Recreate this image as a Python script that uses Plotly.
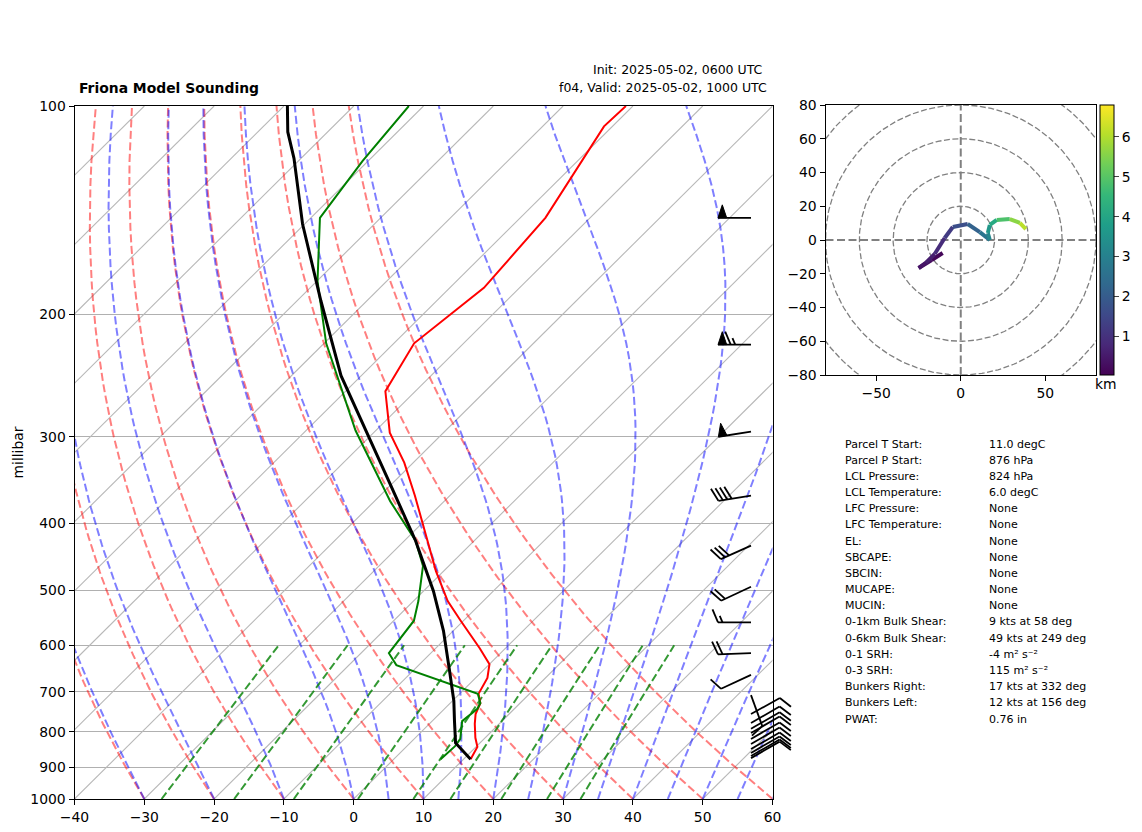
import numpy as np
import plotly.graph_objects as go
from plotly.colors import sample_colorscale

# temperature trace
temp_hpa = [876, 841, 816, 779, 754, 727, 705, 669, 639, 606, 553, 518, 469, 410, 365, 327, 296, 258, 220, 183, 145, 107, 100]
temp_c = [11.0, 10.2, 8.6, 6.5, 5.2, 4.3, 2.7, 1.7, 0.0, -3.7, -10.4, -15.1, -21.1, -28.6, -35.0, -41.3, -47.7, -54.3, -57.1, -55.1, -56.4, -61.2, -61.0]

# dewpoint trace
dewp_hpa = [876, 839, 819, 772, 741, 727, 705, 641, 616, 553, 518, 461, 424, 372, 294, 220, 179, 145, 120, 100]
dewp_c = [6.7, 6.9, 6.6, 4.3, 4.7, 4.3, 2.6, -13.2, -16.0, -17.1, -19.3, -23.7, -28.4, -37.7, -52.9, -69.7, -79.9, -88.7, -90.8, -92.1]

# parcel
parcel_hpa = [876, 830, 772, 722, 654, 572, 501, 424, 353, 294, 245, 191, 148, 119, 109, 100]
parcel_c = [11.0, 6.5, 3.2, 0.2, -4.7, -11.4, -18.6, -28.4, -39.9, -51.4, -62.9, -76.6, -90.3, -101.0, -105.7, -109.5]

# wind barbs
barb_hpa = [145, 221, 295, 365, 431, 494, 556, 616, 662, 708, 754, 777, 792, 803, 819, 833, 847, 858, 867, 873]
barb_kts = [50, 65, 50, 40, 30, 20, 15, 20, 10, 10, 10, 10, 10, 10, 10, 10, 10, 10, 10, 10]
barb_deg = [270, 270, 261, 261, 246, 245, 270, 268, 245, 160, 61, 60, 60, 60, 60, 60, 60, 60, 60, 60]

# hodograph
hodo_u = [-10.7, -17.2, -24.9, -20.7, -15.4, -9.5, -4.7, 4.1, 11.3, 17.2, 16.0, 17.2, 21.3, 29.0, 35.0, 38.5]
hodo_v = [-7.7, -11.9, -16.6, -13.6, -8.3, 1.2, 7.7, 9.5, 4.7, 0.0, 4.1, 8.9, 11.9, 12.4, 10.1, 6.5]
hodo_km = [0.03, 0.15, 0.3, 0.45, 0.7, 1.0, 1.4, 1.9, 2.4, 2.9, 3.4, 3.8, 4.4, 5.3, 5.9, 6.3]

stat_names = ["Parcel T Start:", "Parcel P Start:", "LCL Pressure:", "LCL Temperature:", "LFC Pressure:",
              "LFC Temperature:", "EL:", "SBCAPE:", "SBCIN:", "MUCAPE:", "MUCIN:", "0-1km Bulk Shear:",
              "0-6km Bulk Shear:", "0-1 SRH:", "0-3 SRH:", "Bunkers Right:", "Bunkers Left:", "PWAT:"]
stat_vals = ["11.0 degC", "876 hPa", "824 hPa", "6.0 degC", "None", "None", "None", "None", "None", "None", "None",
             "9 kts at 58 deg", "49 kts at 249 deg", "-4 m² s⁻²", "115 m² s⁻²", "17 kts at 332 deg",
             "12 kts at 156 deg", "0.76 in"]

# the page body has an 8px margin, the figure sits inside it
PAD = 8
W, H = 1142 - PAD, 832 - PAD
FONT = "DejaVu Sans"
L, R, T, B = 74.5, 772.5, 106, 799   # main axes, window pixels
SKEW = 100.0  # degC per decade of pressure


def fx(px):
    return (px - PAD) / W


def fy(px):
    return 1 - (px - PAD) / H


def skew_x(t, p):
    return np.asarray(t, float) + SKEW * np.log10(1000 / np.asarray(p, float))


def sat_mix(t_c, p):
    es = 6.112 * np.exp(17.67 * t_c / (t_c + 243.5))
    return 0.622 * es / (p - es)


def moist_dtdp(t_c, p):
    tk = t_c + 273.15
    rs = sat_mix(t_c, p)
    return (287.0 * tk + 2.5e6 * rs) / (1004.0 + 2.5e6 ** 2 * rs * 0.622 / (287.0 * tk ** 2)) / p


def moist_adiabat(t0, levels):
    out = [t0]
    for p0, p1 in zip(levels[:-1], levels[1:]):
        t = out[-1]
        k = moist_dtdp(t, p0)
        k2 = moist_dtdp(t + k * (p1 - p0) / 2, (p0 + p1) / 2)
        out.append(t + k2 * (p1 - p0))
    return np.array(out)


fig = go.Figure()
levels = np.arange(1000, 99, -10.0)

# isotherms
for t in range(-150, 61, 10):
    fig.add_trace(go.Scatter(x=skew_x([t, t], [1000, 100]), y=[1000, 100], mode="lines",
                             line=dict(color="#b8b8b8", width=1.1), hoverinfo="skip"))

# dry adiabats
for t in range(-40, 61, 10):
    tt = (t + 273.15) * (levels / 1000) ** 0.286 - 273.15
    fig.add_trace(go.Scatter(x=skew_x(tt, levels), y=levels, mode="lines", hoverinfo="skip",
                             line=dict(color="rgba(255,0,0,0.5)", width=2, dash="8px,3.5px")))

# moist adiabats
for t in list(range(-40, 0, 10)) + list(range(0, 61, 5)):
    tt = moist_adiabat(float(t), levels)
    fig.add_trace(go.Scatter(x=skew_x(tt, levels), y=levels, mode="lines", hoverinfo="skip",
                             line=dict(color="rgba(0,0,255,0.5)", width=2, dash="8px,3.5px")))

# mixing ratio
mix_levels = np.arange(1000, 599, -10.0)
for w in [0.0004, 0.001, 0.002, 0.004, 0.007, 0.01, 0.016, 0.024, 0.032]:
    lne = np.log(mix_levels * w / (0.622 + w) / 6.112)
    td = 243.5 * lne / (17.67 - lne)
    fig.add_trace(go.Scatter(x=skew_x(td, mix_levels), y=mix_levels, mode="lines", hoverinfo="skip",
                             line=dict(color="rgba(0,128,0,0.8)", width=2, dash="8px,3.5px")))

fig.add_trace(go.Scatter(x=skew_x(temp_c, temp_hpa), y=temp_hpa, mode="lines", line=dict(color="red", width=2)))
fig.add_trace(go.Scatter(x=skew_x(dewp_c, dewp_hpa), y=dewp_hpa, mode="lines", line=dict(color="green", width=2)))
fig.add_trace(go.Scatter(x=skew_x(parcel_c, parcel_hpa), y=parcel_hpa, mode="lines", line=dict(color="black", width=3)))

# barbs go on a full page overlay axis since they stick out of the frame
BARB_X = 751
STAFF = 33
PX_DECADE = B - T


def to_hpa(p, dy):
    return p * 10 ** (dy / PX_DECADE)


line_x, line_y, flag_x, flag_y = [], [], [], []
for p, spd, deg in zip(barb_hpa, barb_kts, barb_deg):
    d = np.radians(deg)
    ux, uy = np.sin(d), -np.cos(d)
    nx, ny = -uy, ux
    line_x += [BARB_X, BARB_X + STAFF * ux, None]
    line_y += [p, to_hpa(p, STAFF * uy), None]
    s = STAFF
    flags, rest = divmod(spd, 50)
    full, half = divmod(rest, 10)
    half = half // 5
    for i in range(flags):
        xs = [s, s - 8.7, s - 4.3, s]
        hs = [0, 0, 13, 0]
        flag_x += [BARB_X + a * ux + b * nx for a, b in zip(xs, hs)] + [None]
        flag_y += [to_hpa(p, a * uy + b * ny) for a, b in zip(xs, hs)] + [None]
        s -= 8.7 + 4
    for size in [1.0] * full + [0.5] * half:
        if size == 0.5 and full == 0 and flags == 0:
            s -= 4.5
        a, b = s + 5.5 * size, 13 * size
        line_x += [BARB_X + s * ux, BARB_X + a * ux + b * nx, None]
        line_y += [to_hpa(p, s * uy), to_hpa(p, a * uy + b * ny), None]
        s -= 4.5

fig.add_trace(go.Scatter(x=line_x, y=line_y, mode="lines", xaxis="x3", yaxis="y3",
                         line=dict(color="black", width=1.8)))
fig.add_trace(go.Scatter(x=flag_x, y=flag_y, mode="lines", fill="toself", fillcolor="black", xaxis="x3", yaxis="y3",
                         line=dict(color="black", width=1)))

# hodograph
theta = np.linspace(0, 2 * np.pi, 361)
for r in [20, 40, 60, 80, 100]:
    fig.add_trace(go.Scatter(x=r * np.cos(theta), y=r * np.sin(theta), mode="lines", xaxis="x2", yaxis="y2",
                             line=dict(color="gray", width=1.3, dash="6px,2.5px")))
for xs, ys in [([-80, 80], [0, 0]), ([0, 0], [-80, 80])]:
    fig.add_trace(go.Scatter(x=xs, y=ys, mode="lines", xaxis="x2", yaxis="y2",
                             line=dict(color="gray", width=2, dash="8px,3.5px")))
for i in range(len(hodo_km) - 1):
    c = sample_colorscale("Viridis", (hodo_km[i] + hodo_km[i + 1]) / 2 / 6.8)[0]
    fig.add_trace(go.Scatter(x=hodo_u[i:i + 2], y=hodo_v[i:i + 2], mode="lines", xaxis="x2", yaxis="y2",
                             line=dict(color=c, width=4)))
fig.add_trace(go.Scatter(x=hodo_u, y=hodo_v, mode="markers", xaxis="x2", yaxis="y2", opacity=0,
                         marker=dict(size=1, color=hodo_km, colorscale="Viridis", cmin=0.03, cmax=6.8,
                                     colorbar=dict(x=fx(1100), xanchor="left", xpad=0, y=fy(375), yanchor="bottom",
                                                   ypad=0, len=270, lenmode="pixels", thickness=14,
                                                   thicknessmode="pixels", tickvals=[1, 2, 3, 4, 5, 6], ticks="outside",
                                                   ticklen=5, outlinecolor="black", outlinewidth=1,
                                                   tickfont=dict(size=13.9)))))


def add_text(x, y, text, size=11, anchor="left", bold=False):
    fig.add_annotation(x=fx(x), y=fy(y), xref="paper", yref="paper", text="<b>%s</b>" % text if bold else text,
                       showarrow=False, xanchor=anchor, yanchor="middle", borderpad=0,
                       font=dict(size=size, color="black"))


add_text(78, 88, "Friona Model Sounding", 13.9, bold=True)
add_text(764, 70, "Init: 2025-05-02, 0600 UTC", 12.5, "right")
add_text(768, 88, "f04, Valid: 2025-05-02, 1000 UTC", 12.5, "right")
add_text(1106, 384, "km", 13.9, "center")
for i, (name, val) in enumerate(zip(stat_names, stat_vals)):
    add_text(844, 444 + 16.18 * i, name)
    add_text(988, 444 + 16.18 * i, val)

frame = dict(showline=True, linecolor="black", linewidth=1, mirror=True, ticks="outside", ticklen=5,
             tickcolor="black", zeroline=False, tickfont=dict(size=13.9), automargin=False)
fig.update_layout(
    width=W, height=H, margin=dict(l=0, r=0, t=0, b=0, autoexpand=False), showlegend=False, paper_bgcolor="white",
    plot_bgcolor="rgba(0,0,0,0)", font=dict(family=FONT, color="black", size=13.9), hovermode=False,
    xaxis=dict(frame, domain=[fx(L), fx(R)], range=[-40, 60], tickmode="array", tickvals=list(range(-40, 61, 10)),
               showgrid=False),
    yaxis=dict(frame, domain=[fy(B), fy(T)], type="log", range=[3, 2], tickmode="array",
               tickvals=list(range(100, 1001, 100)), ticktext=[str(v) for v in range(100, 1001, 100)],
               showgrid=True, gridcolor="#b0b0b0", gridwidth=1, title=dict(text="millibar", font=dict(size=13.9), standoff=3)),
    xaxis2=dict(frame, domain=[fx(825.5), fx(1096)], range=[-80, 80], tickmode="array", tickvals=[-50, 0, 50],
                showgrid=False, anchor="y2"),
    yaxis2=dict(frame, domain=[fy(375), fy(105)], range=[-80, 80], tickmode="array",
                tickvals=list(range(-80, 81, 20)), showgrid=False, anchor="x2"),
    xaxis3=dict(domain=[0, 1], range=[PAD, 1142], visible=False, anchor="y3"),
    yaxis3=dict(domain=[0, 1], type="log", range=[3 + (832 - B) / PX_DECADE, 3 - (B - PAD) / PX_DECADE], visible=False, anchor="x3"),
)

fig.write_html("out.html")
